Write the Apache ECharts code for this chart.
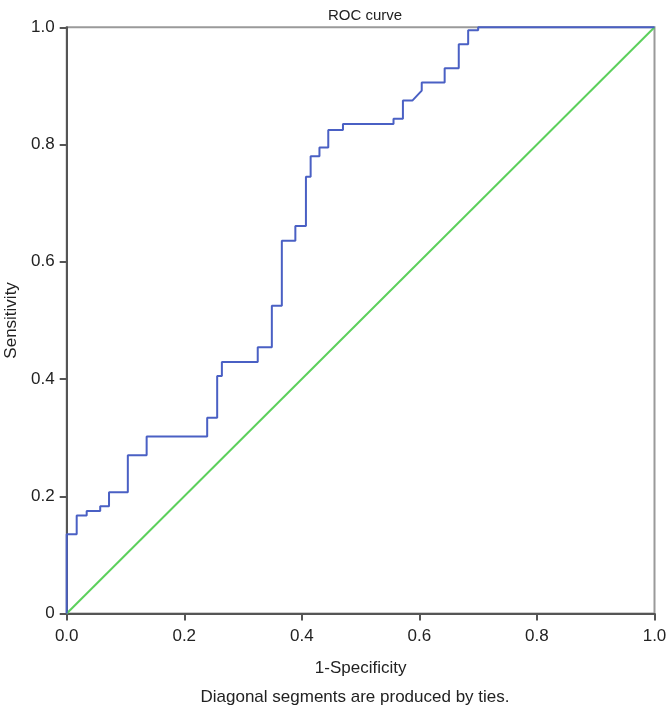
<!DOCTYPE html>
<html>
<head>
<meta charset="utf-8">
<script src="https://cdn.jsdelivr.net/npm/echarts@6/dist/echarts.min.js"></script>
<style>html,body{margin:0;padding:0;background:#fff;}#c{width:667px;height:709px;}</style>
</head>
<body>
<div id="c"></div>
<script>
// ROC curve vertices (1-Specificity, Sensitivity)
const fpr = [0, 0, 0.017, 0.017, 0.034, 0.034, 0.057, 0.057, 0.072, 0.072, 0.104, 0.104, 0.136, 0.136, 0.239, 0.239, 0.256, 0.256, 0.264, 0.264, 0.325, 0.325, 0.349, 0.349, 0.366, 0.366, 0.389, 0.389, 0.407, 0.407, 0.415, 0.415, 0.43, 0.43, 0.445, 0.445, 0.47, 0.47, 0.556, 0.556, 0.572, 0.572, 0.588, 0.604, 0.604, 0.643, 0.643, 0.667, 0.667, 0.683, 0.683, 0.700, 0.700, 1.0];
const tpr = [0, 0.135, 0.135, 0.167, 0.167, 0.175, 0.175, 0.183, 0.183, 0.207, 0.207, 0.27, 0.27, 0.302, 0.302, 0.334, 0.334, 0.405, 0.405, 0.429, 0.429, 0.454, 0.454, 0.525, 0.525, 0.636, 0.636, 0.661, 0.661, 0.745, 0.745, 0.78, 0.78, 0.795, 0.795, 0.825, 0.825, 0.835, 0.835, 0.844, 0.844, 0.875, 0.875, 0.892, 0.906, 0.906, 0.930, 0.930, 0.971, 0.971, 0.995, 0.995, 1.0, 1.0];
const refX = [0, 1];
const refY = [0, 1];
const xTicks = ['0.0', '0.2', '0.4', '0.6', '0.8', '1.0'];
const yTicks = ['0', '0.2', '0.4', '0.6', '0.8', '1.0'];

const chart = echarts.init(document.getElementById('c'), null, {renderer: 'canvas'});
const font = 'Liberation Sans, Arial, Helvetica, sans-serif';
chart.setOption({
  animation: false,
  backgroundColor: '#fff',
  title: {
    text: 'ROC curve', left: 360, top: 3, textAlign: 'center',
    textStyle: {fontFamily: font, fontSize: 15, fontWeight: 'normal', color: '#222'}
  },
  graphic: [{
    type: 'text', x: 355, y: 697,
    style: {text: 'Diagonal segments are produced by ties.', font: '17px ' + font, fill: '#222',
      align: 'center', verticalAlign: 'middle', textAlign: 'center', textVerticalAlign: 'middle'}
  }],
  grid: {left: 66.7, right: 12.5, top: 27.3, bottom: 95.5, containLabel: false, outerBoundsMode: 'none',
    show: true, borderColor: '#9a9a9a', borderWidth: 2},
  xAxis: {
    type: 'value', min: 0, max: 1, interval: 0.2,
    name: '1-Specificity', nameLocation: 'middle', nameGap: 46,
    nameTextStyle: {fontFamily: font, fontSize: 17, color: '#222'},
    axisLine: {show: true, onZero: false, lineStyle: {color: '#555', width: 2}},
    axisTick: {show: true, length: 7, lineStyle: {color: '#555', width: 2}},
    axisLabel: {fontFamily: font, fontSize: 17, color: '#222', margin: 14,
      formatter: v => xTicks[Math.round(v / 0.2)]},
    splitLine: {show: false}
  },
  yAxis: {
    type: 'value', min: 0, max: 1, interval: 0.2,
    name: 'Sensitivity', nameLocation: 'middle', nameGap: 46,
    nameTextStyle: {fontFamily: font, fontSize: 17, color: '#222'},
    axisLine: {show: true, onZero: false, lineStyle: {color: '#555', width: 2}},
    axisTick: {show: true, length: 7, lineStyle: {color: '#555', width: 2}},
    axisLabel: {fontFamily: font, fontSize: 17, color: '#222', margin: 12,
      formatter: v => yTicks[Math.round(v / 0.2)]},
    splitLine: {show: false}
  },
  series: [
    {
      type: 'line', data: refX.map((x, i) => [x, refY[i]]),
      symbol: 'none', clip: false,
      lineStyle: {color: '#5cd05c', width: 2}
    },
    {
      type: 'line', data: fpr.map((x, i) => [x, tpr[i]]),
      symbol: 'none', clip: false,
      lineStyle: {color: '#4a60c4', width: 2}
    }
  ]
});
</script>
</body>
</html>
